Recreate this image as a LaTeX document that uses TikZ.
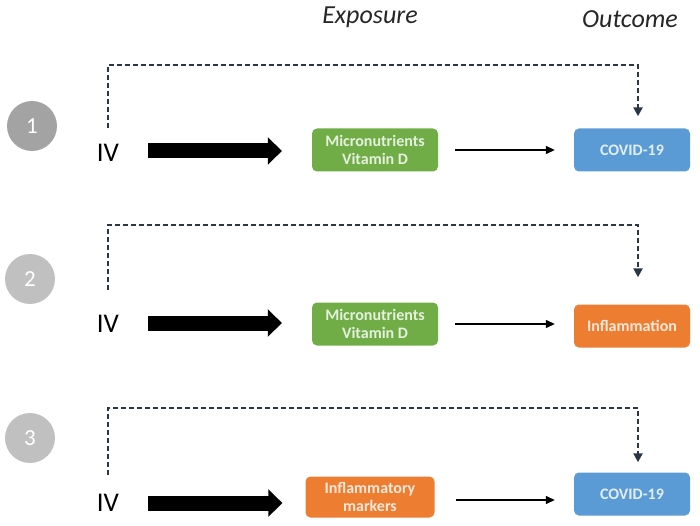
\documentclass[tikz,border=0pt]{standalone}
\usepackage{fontspec}
\setmainfont{Carlito}
\usetikzlibrary{arrows.meta,positioning,calc}
\definecolor{cgreen}{HTML}{70AD47}
\definecolor{cblue}{HTML}{5B9BD5}
\definecolor{corange}{HTML}{ED7D31}
\definecolor{cnavy}{HTML}{2A3546}
\definecolor{cgray1}{HTML}{A3A3A3}
\definecolor{cgray2}{HTML}{C0C0C0}
\tikzset{
  numcirc/.style={circle, minimum size=50pt, inner sep=0pt, text=white, font=\fontsize{23}{26}\selectfont},
  ivlab/.style={inner sep=0pt, font=\fontsize{27}{30}\selectfont},
  hdr/.style={inner sep=0pt, font=\fontsize{26}{30}\selectfont\itshape, text=black!85},
  bx/.style={rounded corners=5pt, minimum height=43pt, inner sep=2pt, align=center,
     font=\fontsize{16}{18}\selectfont\bfseries},
  gbox/.style={bx, fill=cgreen, text=white!82!cgreen, minimum width=126pt},
  bbox/.style={bx, fill=cblue, text=white!82!cblue, minimum width=116pt},
  obox/.style={bx, fill=corange, text=white!82!corange, minimum width=116pt},
  thick arrow/.style={line width=15pt, -{Triangle[length=14pt,width=27pt]}},
  thin arrow/.style={line width=1.3pt, -{Triangle[length=9pt,width=8pt]}},
  dasharrow/.style={cnavy, line width=2.3pt, dash pattern=on 5pt off 3pt, -{Triangle[length=9pt,width=9pt]}},
}
\begin{document}
\begin{tikzpicture}[x=1pt,y=-1pt]
\useasboundingbox (0,0) rectangle (700,526);
% headers
\node[hdr] (hexp) at (370,17) {Exposure};
\node[hdr] (hout) at (630,19) {Outcome};
% circles
\node[numcirc, fill=cgray1] (c1) at (32,126) {1};
\node[numcirc, fill=cgray2] (c2) at (30,279) {2};
\node[numcirc, fill=cgray2] (c3) at (30,438) {3};
% row 1
\node[ivlab] (iv1) at (108,153) {IV};
\node[gbox] (e1) at (375,150) {Micronutrients\\Vitamin D};
\node[bbox] (o1) at (632,150) {COVID-19};
\coordinate (t1) at (638,65);
\coordinate (s1) at (108,128);
\draw[thick arrow, shorten <=40pt, shorten >=30pt] (iv1.center) ++(0,-2) coordinate (a1) (a1) -- (a1 -| e1.west);
\draw[thin arrow, shorten <=17pt, shorten >=19pt] (e1.east) -- (e1.east -| o1.west);
\draw[dasharrow] (s1) |- (t1) -- ($(t1 |- o1.north)+(0,-12)$) coordinate (p1);
% row 2
\node[ivlab] (iv2) at (108,324) {IV};
\node[gbox] (e2) at (375,324) {Micronutrients\\Vitamin D};
\node[obox] (o2) at (632,326) {Inflammation};
\coordinate (t2) at (638,225);
\coordinate (s2) at (108,290);
\draw[thick arrow, shorten <=40pt, shorten >=30pt] (iv2.center) ++(0,-1) coordinate (a2) (a2) -- (a2 -| e2.west);
\draw[thin arrow, shorten <=17pt, shorten >=19pt] (e2.east) -- (e2.east -| o2.west);
\draw[dasharrow] (s2) |- (t2) -- ($(t2 |- o2.north)+(0,-27)$) coordinate (p2);
% row 3
\node[ivlab] (iv3) at (108,503) {IV};
\node[obox, minimum width=129pt, minimum height=41pt] (e3) at (370,497) {Inflammatory\\markers};
\node[bbox] (o3) at (632,494) {COVID-19};
\coordinate (t3) at (638,408);
\coordinate (s3) at (108,475);
\draw[thick arrow, shorten <=40pt, shorten >=23pt] (iv3.center) -- (iv3.center -| e3.west);
\draw[thin arrow, shorten <=21pt, shorten >=19pt] (e3.east |- 0,500) -- (o3.west |- 0,500);
\draw[dasharrow] (s3) |- (t3) -- ($(t3 |- o3.north)+(0,-10)$) coordinate (p3);
\end{tikzpicture}
\end{document}
